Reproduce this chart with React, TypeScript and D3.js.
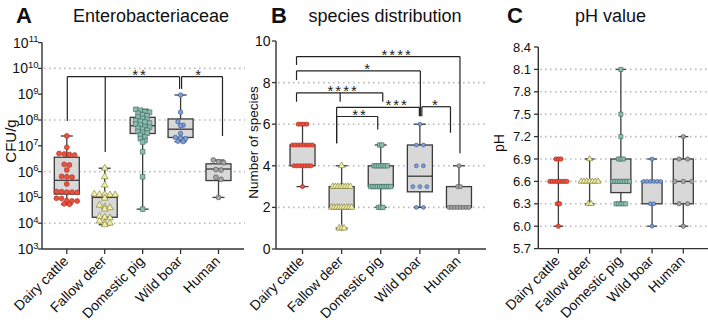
import React from "react";
import * as d3 from "d3";

const categories = ["Dairy cattle", "Fallow deer", "Domestic pig", "Wild boar", "Human"];

// ---------- Panel A: Enterobacteriaceae (CFU/g) ----------
const cfuDairyCattle = [2.4e7, 8.7e6, 5e6, 4.8e6, 4.6e6, 4.4e6, 1.9e6, 1.8e6, 1.15e6, 6.5e5, 6.3e5, 6.1e5, 3.3e5, 1.7e5, 1.65e5, 1.6e5, 1.6e5, 1.55e5, 9.3e4, 9e4, 7.4e4, 7.3e4, 7.2e4, 5.6e4, 5.4e4];
const cfuFallowDeer = [1.35e6, 6.3e5, 3e5, 1.35e5, 1.3e5, 1.3e5, 1.25e5, 1.25e5, 9.3e4, 5e4, 4.3e4, 4e4, 3.5e4, 1.8e4, 1.7e4, 1.6e4, 1.2e4, 1.05e4, 1e4, 8.7e3];
const cfuDomesticPig = [2.6e8, 2.4e8, 2.1e8, 2e8, 1.8e8, 1.6e8, 1.45e8, 1.3e8, 1.15e8, 1.05e8, 9.5e7, 8.9e7, 8.3e7, 7.6e7, 6.9e7, 6.3e7, 5.6e7, 5.2e7, 4.8e7, 4.4e7, 4e7, 3.6e7, 3.3e7, 3.1e7, 2.6e7, 2.2e7, 1.9e7, 1.6e7, 1.4e7, 5.9e6, 6.3e5, 3.5e4];
const cfuWildBoar = [9.3e8, 2e8, 8.6e7, 6.3e7, 6e7, 3e7, 2.1e7, 2e7, 1.9e7, 1.5e7, 1.45e7];
const cfuHuman = [2.8e6, 2.4e6, 2.2e6, 1.2e6, 1.15e6, 6e5, 5e5, 1e5];
// [min, q1, median, q3, max]
const cfuBoxStats = [
  [5.4e4, 1.35e5, 4.6e5, 3.6e6, 2.4e7],
  [8.7e3, 1.7e4, 1.0e5, 1.2e5, 1.35e6],
  [3.5e4, 3.0e7, 6.0e7, 1.27e8, 2.6e8],
  [1.45e7, 2.1e7, 4.4e7, 1.1e8, 9.3e8],
  [1.0e5, 4.5e5, 1.26e6, 2.0e6, 2.8e6],
];
const cfuTicks = [1e3, 1e4, 1e5, 1e6, 1e7, 1e8, 1e9, 1e10, 1e11];
const cfuGrid = [1e4, 1e6, 1e8, 1e10];
// legs: [category index, leg end value, leg x nudge]
const cfuBrackets = [
  { label: "**", top: 4.8e9, labelAt: 1.93, legs: [[0, 9.1e7, 0.5], [1, 5.8e6, 0.5], [3, 1.6e9, -1]] },
  { label: "*", top: 4.8e9, labelAt: 3.49, legs: [[3, 1.6e9, 1], [4, 2.4e7, 4]] },
];

// ---------- Panel B: species distribution ----------
const speciesDairyCattle = [6, 6, 6, 6, 5, 5, 5, 5, 5, 5, 5, 5, 4, 4, 4, 4, 4, 4, 4, 3];
const speciesFallowDeer = [4, 3, 3, 3, 3, 3, 3, 3, 3, 2, 2, 2, 2, 2, 2, 2, 2, 2, 1, 1, 1];
const speciesDomesticPig = [5, 5, 4, 4, 4, 4, 4, 4, 4, 3, 3, 3, 3, 3, 3, 3, 3, 3, 3, 2, 2, 2];
const speciesWildBoar = [6, 5, 5, 4, 4, 3, 3, 3, 2, 2];
const speciesHuman = [4, 3, 3, 2, 2, 2, 2, 2, 2, 2, 2];
const speciesBoxStats = [
  [3, 4, 5, 5, 6],
  [1, 2, 2, 3, 4],
  [2, 3, 3, 4, 5],
  [2, 2.75, 3.5, 5, 6],
  [2, 2, 2, 3, 4],
];
const speciesTicks = [0, 2, 4, 6, 8, 10];
const speciesGrid = [2, 4, 6, 8];
const speciesBrackets = [
  { label: "****", top: 9.25, labelAt: 2.42, legs: [[0, 8.85, -6], [4, 4.6, 1]] },
  { label: "*", top: 8.56, labelAt: 1.68, legs: [[0, 8.12, -6], [3, 6.38, 0.5]] },
  { label: "****", top: 7.51, labelAt: 1.04, legs: [[0, 7.08, -6], [1, 7.08, -1.5], [2, 7.08, 2]] },
  { label: "***", top: 6.81, labelAt: 2.42, legs: [[1, 5.08, -5], [3, 6.38, -0.5]] },
  { label: "**", top: 6.37, labelAt: 1.47, legs: [[1, 5.08, -5], [2, 5.75, -3]] },
  { label: "*", top: 6.84, labelAt: 3.41, legs: [[3, 6.38, 2], [4, 5.59, -8.5]] },
];

// ---------- Panel C: pH value ----------
const phDairyCattle = [6.9, 6.9, 6.9, 6.6, 6.6, 6.6, 6.6, 6.6, 6.6, 6.6, 6.6, 6.3, 6.3, 6.0];
const phFallowDeer = [6.9, 6.6, 6.6, 6.6, 6.6, 6.6, 6.6, 6.6, 6.3, 6.3];
const phDomesticPig = [8.1, 7.5, 7.2, 6.9, 6.9, 6.9, 6.6, 6.6, 6.6, 6.6, 6.6, 6.6, 6.6, 6.6, 6.3, 6.3, 6.3, 6.3, 6.3];
const phWildBoar = [6.9, 6.6, 6.6, 6.6, 6.6, 6.6, 6.6, 6.3, 6.3, 6.0];
const phHuman = [7.2, 6.9, 6.9, 6.6, 6.6, 6.6, 6.3, 6.3, 6.0];
const phBoxStats = [
  [6.0, 6.6, 6.6, 6.6, 6.9],
  [6.3, 6.6, 6.6, 6.6, 6.9],
  [6.3, 6.45, 6.6, 6.9, 8.1],
  [6.0, 6.3, 6.6, 6.6, 6.9],
  [6.0, 6.3, 6.6, 6.9, 7.2],
];
const phTicks = [5.7, 6.0, 6.3, 6.6, 6.9, 7.2, 7.5, 7.8, 8.1, 8.4];
const phGrid = [6.0, 6.3, 6.6, 6.9, 7.2, 7.5, 7.8, 8.1];

// ---------- styles ----------
const FONT = "'Liberation Sans', Arial, Helvetica, sans-serif";
const fills = ["#f0503c", "#f4f0a4", "#8dbdb0", "#7fa0d6", "#a4a4a4"];
const strokes = ["#9c2a1c", "#76733a", "#3c6a5f", "#33528a", "#505050"];
const shapes = [d3.symbolCircle, d3.symbolTriangle, d3.symbolSquare, d3.symbolCircle, d3.symbolCircle];
const AX = "#333";
const GRID = "#bcbcbc";

// rows grouped by pixel proximity (panel A)
function binnedRows(ys: number[], binH: number, spacing: number): number[] {
  const order = d3.range(ys.length).sort((a, b) => ys[a] - ys[b]);
  const xs = new Array(ys.length).fill(0);
  let row: number[] = [];
  let start = -Infinity;
  const flush = () => {
    row.forEach((idx, j) => (xs[idx] = (j - (row.length - 1) / 2) * spacing));
    row = [];
  };
  for (const i of order) {
    if (ys[i] - start > binH) {
      flush();
      start = ys[i];
    }
    row.push(i);
  }
  flush();
  return xs;
}

// rows by identical value (panels B, C)
function valueRows(values: number[], maxSpan: number, natural: number): number[] {
  const counts = d3.rollup(values, (v) => v.length, (v) => v);
  const maxCount = d3.max(Array.from(counts.values())) as number;
  const s = maxCount > 1 ? Math.min(natural, maxSpan / (maxCount - 1)) : 0;
  const seen = new Map<number, number>();
  return values.map((v) => {
    const k = counts.get(v) as number;
    const i = seen.get(v) ?? 0;
    seen.set(v, i + 1);
    return (i - (k - 1) / 2) * s;
  });
}

type PanelProps = {
  x: d3.ScalePoint<string>;
  y: any;
  groups: number[][];
  stats: number[][];
  boxW: number;
  capW: number;
  sizes: number[];
  layout: (vals: number[], gi: number) => number[];
};

function Groups({ x, y, groups, stats, boxW, capW, sizes, layout }: PanelProps) {
  return (
    <g>
      {stats.map((s, i) => {
        const cx = x(categories[i]) as number;
        const [mn, q1, md, q3, mx] = s.map((v) => y(v));
        return (
          <g key={"b" + i}>
            <line x1={cx} x2={cx} y1={mx} y2={mn} stroke="#3c3c3c" strokeWidth={1.3} />
            <line x1={cx - capW / 2} x2={cx + capW / 2} y1={mx} y2={mx} stroke="#3c3c3c" strokeWidth={1.3} />
            <line x1={cx - capW / 2} x2={cx + capW / 2} y1={mn} y2={mn} stroke="#3c3c3c" strokeWidth={1.3} />
            <rect x={cx - boxW / 2} y={q3} width={boxW} height={Math.max(0, q1 - q3)} fill="#d8d8d8" stroke="#3a3a3a" strokeWidth={1.3} />
            <line x1={cx - boxW / 2} x2={cx + boxW / 2} y1={md} y2={md} stroke="#3a3a3a" strokeWidth={1.3} />
          </g>
        );
      })}
      {groups.map((vals, i) => {
        const cx = x(categories[i]) as number;
        const offs = layout(vals, i);
        const path = d3.symbol().type(shapes[i]).size(sizes[i])() as string;
        return (
          <g key={"p" + i}>
            {vals.map((v, j) => (
              <path key={j} d={path} transform={`translate(${cx + offs[j]},${y(v)})`} fill={fills[i]} stroke={strokes[i]} strokeWidth={0.6} />
            ))}
          </g>
        );
      })}
    </g>
  );
}

function Brackets({ x, y, brackets }: { x: d3.ScalePoint<string>; y: any; brackets: any[] }) {
  const x0 = x(categories[0]) as number;
  const step = x.step();
  return (
    <g>
      {brackets.map((b, i) => {
        const ty = y(b.top);
        const legXs = b.legs.map((l: number[]) => (x(categories[l[0]]) as number) + l[2]);
        return (
          <g key={i}>
            <line x1={d3.min(legXs)} x2={d3.max(legXs)} y1={ty} y2={ty} stroke="#222" strokeWidth={1.2} />
            {b.legs.map((l: number[], k: number) => (
              <line key={k} x1={legXs[k]} x2={legXs[k]} y1={ty} y2={y(l[1])} stroke="#222" strokeWidth={1.2} />
            ))}
            <text x={x0 + b.labelAt * step} y={ty + 3} textAnchor="middle" fontSize={15} letterSpacing={2} fill="#222" fontFamily={FONT}>
              {b.label}
            </text>
          </g>
        );
      })}
    </g>
  );
}

function XAxis({ x, y0, xStart, xEnd }: { x: d3.ScalePoint<string>; y0: number; xStart: number; xEnd: number }) {
  return (
    <g>
      <line x1={xStart} x2={xEnd} y1={y0} y2={y0} stroke={AX} strokeWidth={1.4} />
      {categories.map((c) => {
        const cx = x(c) as number;
        return (
          <g key={c}>
            <line x1={cx} x2={cx} y1={y0} y2={y0 + 5} stroke={AX} strokeWidth={1.3} />
            <text transform={`translate(${cx + 2.5},${y0 + 13}) rotate(-45)`} textAnchor="end" fontSize={14} fontFamily={FONT} fill="#111">
              {c}
            </text>
          </g>
        );
      })}
    </g>
  );
}

export default function App() {
  const xA = d3.scalePoint<string>().domain(categories).range([42, 243.3]).padding(0.654);
  const yA = d3.scaleLog().domain([1e3, 1e11]).range([249, 42.6]);
  const xB = d3.scalePoint<string>().domain(categories).range([276, 485.5]).padding(0.678);
  const yB = d3.scaleLinear().domain([0, 10]).range([249, 41]);
  const xC = d3.scalePoint<string>().domain(categories).range([538.3, 703.4]).padding(0.643);
  const yC = d3.scaleLinear().domain([5.7, 8.4]).range([248.6, 47]);

  const cfuGroups = [cfuDairyCattle, cfuFallowDeer, cfuDomesticPig, cfuWildBoar, cfuHuman];
  const speciesGroups = [speciesDairyCattle, speciesFallowDeer, speciesDomesticPig, speciesWildBoar, speciesHuman];
  const phGroups = [phDairyCattle, phFallowDeer, phDomesticPig, phWildBoar, phHuman];

  const dotted = { stroke: GRID, strokeWidth: 1.6, strokeDasharray: "1.6 3.4" };

  return (
    <svg width={708} height={326} style={{ position: "absolute", left: 0, top: 0, background: "#fff" }} fontFamily={FONT}>
      <rect width={708} height={326} fill="#fff" />

      {/* ===== Panel A ===== */}
      <text x={16} y={23} fontSize={22} fontWeight="bold" fill="#111">A</text>
      <text x={151} y={22} fontSize={18} textAnchor="middle" fill="#111">Enterobacteriaceae</text>
      {cfuGrid.map((g) => (
        <line key={g} x1={44} x2={245} y1={yA(g)} y2={yA(g)} {...dotted} />
      ))}
      <Groups
        x={xA}
        y={yA}
        groups={cfuGroups}
        stats={cfuBoxStats}
        boxW={25}
        capW={12}
        sizes={[19, 20, 22, 16, 19]}
        layout={(vals, gi) => binnedRows(vals.map((v) => yA(v)), gi === 2 ? 3.2 : 3.5, gi === 2 ? 4.6 : 5.2)}
      />
      <Brackets x={xA} y={yA} brackets={cfuBrackets} />
      <line x1={42} x2={42} y1={42.6} y2={249} stroke={AX} strokeWidth={1.4} />
      {cfuTicks.map((t) => (
        <g key={t}>
          <line x1={38} x2={42} y1={yA(t)} y2={yA(t)} stroke={AX} strokeWidth={1.3} />
          <text x={38.5} y={yA(t) + 5} textAnchor="end" fontSize={14} fill="#111">
            <tspan>10</tspan>
            <tspan dy={-5.5} fontSize={9.5}>{Math.round(Math.log10(t))}</tspan>
          </text>
        </g>
      ))}
      <XAxis x={xA} y0={249} xStart={42} xEnd={244} />
      <text transform="translate(16,141) rotate(-90)" textAnchor="middle" fontSize={15} fill="#111">CFU/g</text>

      {/* ===== Panel B ===== */}
      <text x={271} y={23} fontSize={22} fontWeight="bold" fill="#111">B</text>
      <text x={385} y={22} fontSize={18} textAnchor="middle" fill="#111">species distribution</text>
      {speciesGrid.map((g) => (
        <line key={g} x1={278} x2={486} y1={yB(g)} y2={yB(g)} {...dotted} />
      ))}
      <Groups
        x={xB}
        y={yB}
        groups={speciesGroups}
        stats={speciesBoxStats}
        boxW={25}
        capW={12}
        sizes={[14, 18, 19, 12, 14]}
        layout={(vals) => valueRows(vals, 20, 7)}
      />
      <Brackets x={xB} y={yB} brackets={speciesBrackets} />
      <line x1={276} x2={276} y1={41} y2={249} stroke={AX} strokeWidth={1.4} />
      {speciesTicks.map((t) => (
        <g key={t}>
          <line x1={272} x2={276} y1={yB(t)} y2={yB(t)} stroke={AX} strokeWidth={1.3} />
          <text x={270.5} y={yB(t) + 5} textAnchor="end" fontSize={14} fill="#111">{t}</text>
        </g>
      ))}
      <XAxis x={xB} y0={249} xStart={276} xEnd={486} />
      <text transform="translate(258,142.5) rotate(-90)" textAnchor="middle" fontSize={13.5} fill="#111">Number of species</text>

      {/* ===== Panel C ===== */}
      <text x={507} y={23} fontSize={22} fontWeight="bold" fill="#111">C</text>
      <text x={610.5} y={22} fontSize={18} textAnchor="middle" fill="#111">pH value</text>
      {phGrid.map((g) => (
        <line key={g} x1={540} x2={708} y1={yC(g)} y2={yC(g)} {...dotted} />
      ))}
      <Groups
        x={xC}
        y={yC}
        groups={phGroups}
        stats={phBoxStats}
        boxW={20}
        capW={10}
        sizes={[15, 16, 17, 12, 15]}
        layout={(vals) => valueRows(vals, 17, 9)}
      />
      <line x1={538.3} x2={538.3} y1={47} y2={248.6} stroke={AX} strokeWidth={1.4} />
      {phTicks.map((t) => (
        <g key={t}>
          <line x1={534} x2={538.3} y1={yC(t)} y2={yC(t)} stroke={AX} strokeWidth={1.3} />
          <text x={531} y={yC(t) + 4.5} textAnchor="end" fontSize={13} fill="#111">{t.toFixed(1)}</text>
        </g>
      ))}
      <XAxis x={xC} y0={248.6} xStart={538.3} xEnd={708} />
      <text transform="translate(504,143) rotate(-90)" textAnchor="middle" fontSize={14} fill="#111">pH</text>
    </svg>
  );
}
